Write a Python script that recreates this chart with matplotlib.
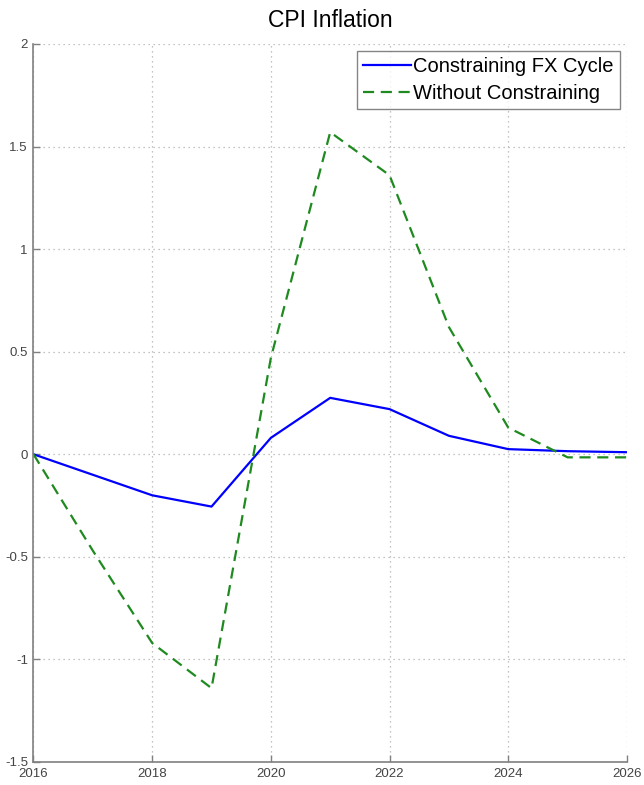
import matplotlib
matplotlib.use("Agg")
import matplotlib.pyplot as plt

years = [2016, 2017, 2018, 2019, 2020, 2021, 2022, 2023, 2024, 2025, 2026]
constraining = [0.0, -0.10, -0.20, -0.255, 0.08, 0.275, 0.22, 0.09, 0.025, 0.015, 0.01]
without = [0.0, -0.47, -0.92, -1.14, 0.47, 1.57, 1.36, 0.62, 0.13, -0.015, -0.015]
series_labels = ["Constraining FX Cycle", "Without Constraining"]
title = "CPI Inflation"
xticks = [2016, 2018, 2020, 2022, 2024, 2026]
yticks = [-1.5, -1, -0.5, 0, 0.5, 1, 1.5, 2]
ytick_labels = ["-1.5", "-1", "-0.5", "0", "0.5", "1", "1.5", "2"]

plt.rcParams["font.family"] = ["Liberation Sans", "DejaVu Sans"]

fig = plt.figure(figsize=(6.44, 7.85), dpi=100)
ax = fig.add_axes([0.052, 0.0293, 0.9215, 0.9147])

ax.plot(years, constraining, color="#0000ff", lw=1.6, label=series_labels[0])
ax.plot(years, without, color="#1f8a1f", lw=1.6, ls=(0, (5, 3)), label=series_labels[1])

ax.set_xlim(2016, 2026)
ax.set_ylim(-1.5, 2)
ax.set_xticks(xticks)
ax.set_xticklabels([str(x) for x in xticks])
ax.set_yticks(yticks)
ax.set_yticklabels(ytick_labels)

ax.grid(True, color="#b0b0b0", ls=(0, (1, 3)), lw=0.9)
for s in ("top", "right"):
    ax.spines[s].set_visible(False)
for s in ("left", "bottom"):
    ax.spines[s].set_color("#808080")
    ax.spines[s].set_linewidth(1.2)
ax.tick_params(direction="in", length=5, width=1, color="#808080",
               labelsize=9.5, labelcolor="#444444", pad=4)

ax.set_title(title, fontsize=16.5, pad=12)

leg = ax.legend(loc="upper right", fontsize=14.5, frameon=True, fancybox=False,
                borderaxespad=0.35, handlelength=2.4, handletextpad=0.1,
                borderpad=0.3, labelspacing=0.4)
leg.get_frame().set_edgecolor("#666666")
leg.get_frame().set_linewidth(1.0)

fig.savefig("out.png", dpi=100)
